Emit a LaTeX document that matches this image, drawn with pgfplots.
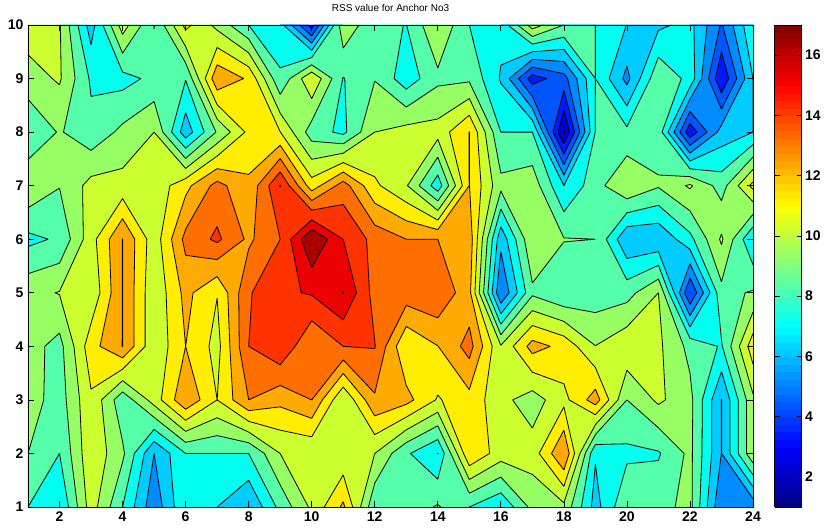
\documentclass[border=0pt]{standalone}
\usepackage{pgfplots}
\usepackage{pgfplotstable}
\usepackage{fontspec}
\setmainfont{Liberation Sans}
\pgfplotsset{compat=1.18}
\definecolor{band1}{HTML}{000099}
\definecolor{band2}{HTML}{0000CC}
\definecolor{band3}{HTML}{0018FF}
\definecolor{band4}{HTML}{0055FF}
\definecolor{band5}{HTML}{008CFF}
\definecolor{band6}{HTML}{00CCFF}
\definecolor{band7}{HTML}{00FFEE}
\definecolor{band8}{HTML}{55FFAA}
\definecolor{band9}{HTML}{96FF64}
\definecolor{band10}{HTML}{CCFF30}
\definecolor{band11}{HTML}{FFEE00}
\definecolor{band12}{HTML}{FFAA00}
\definecolor{band13}{HTML}{FF6F00}
\definecolor{band14}{HTML}{FF3300}
\definecolor{band15}{HTML}{EE0000}
\definecolor{band16}{HTML}{AA0000}
\definecolor{band17}{HTML}{800000}
\pgfplotstableread[header=false]{
10.5 10.1 6.5 10.5 7.98 11.3 9.7 8.0 7.4 3.5 9.8 8.2 7.98 9.95 8.0 7.3 10.5 9.0 8.0 6.98 6.8 7.3 4.9 7.9
9.6 10.12 7.85 7.65 8.25 8.05 12.8 11.85 8.15 10.9 7.95 8.95 7.4 8.77 8.8 6.9 3.5 4.6 8.0 5.7 8.8 7.7 3.1 7.0
8.05 9.1 8.3 9.25 10.0 6.4 9.1 11.25 11.02 8.5 7.75 10.0 10.4 10.4 12.02 8.0 8.0 1.9 8.03 8.25 8.6 3.3 6.42 7.0
9.9 9.04 10.35 10.36 10.3 11.7 13.35 12.2 15.03 11.45 13.46 11.2 10.1 7.4 12.02 9.3 9.6 7.0 8.6 9.95 9.1 10.15 8.55 11.3
7.73 8.15 10.6 13.02 10.4 13.3 14.2 12.8 14.0 17.02 15.0 13.65 13.0 13.0 12.6 6.3 9.9 9.05 9.0 6.1 6.1 7.7 10.15 7.0
9.7 10.05 10.2 13.02 10.2 12.3 11.04 13.9 14.8 15.1 16.03 13.6 13.6 13.9 12.3 5.0 8.8 8.05 8.4 8.6 10.0 3.98 8.7 9.1
9.4 8.65 11.6 13.02 10.2 12.0 10.65 14.0 14.9 13.0 14.0 14.05 11.05 11.98 13.4 10.1 12.4 11.7 10.02 10.8 10.2 8.7 7.9 11.6
9.5 8.5 10.85 8.3 10.45 12.85 11.0 13.0 12.3 13.0 10.05 12.85 12.35 10.9 11.67 10.3 9.5 10.7 12.5 9.0 10.2 9.3 5.98 9.8
9.0 8.0 10.8 9.2 6.0 8.0 8.0 8.0 10.0 10.1 10.2 10.0 8.15 6.98 11.9 10.5 10.45 13.0 7.1 7.78 7.9 9.25 5.98 9.8
8.0 7.0 10.5 8.0 5.3 7.95 7.0 6.0 8.3 10.2 12.2 8.2 8.4 9.1 8.0 7.1 9.3 9.75 6.6 8.9 8.66 9.3 5.1 5.3
}\grid
\makeatletter
\newif\ifhia \newif\ifhib \newif\ifsep
\newdimen\Lv \newdimen\tv \newdimen\vmin \newdimen\vmax
\def\V#1#2{\csname V@\number#1@\number#2\endcsname}
\def\hb#1{\ifdim#1<\Lv 0\else 1\fi}
\def\patAC{1010}\def\patBD{0101}
\def\crossing#1#2#3#4#5#6{%
  \tv=\dimexpr 1pt*\number\dimexpr\Lv-#3\relax/\number\dimexpr#6-#3\relax\relax
  \edef\px{\strip@pt\dimexpr #1pt+\tv*\numexpr#4-#1\relax\relax}%
  \edef\py{\strip@pt\dimexpr #2pt+\tv*\numexpr#5-#2\relax\relax}%
  \edef\cp{\cp(\px,\py)}%
  \ifsep
    \ifhia
      \edef\cl{\cl\firstE(\px,\py)(nan,nan)}%
      \edef\cp{\cp(nan,nan)}%
    \else
      \edef\firstE{(\px,\py)}%
    \fi
  \else
    \ifhia
      \edef\pend{(\px,\py)}%
    \else
      \ifx\pend\empty
        \edef\firstE{(\px,\py)}%
      \else
        \edef\cl{\cl\pend(\px,\py)(nan,nan)}%
        \let\pend\empty
      \fi
    \fi
  \fi}
\def\edge#1#2#3#4#5#6{%
  \ifdim#3<\Lv \hiafalse\else\hiatrue\fi
  \ifdim#6<\Lv \hibfalse\else\hibtrue\fi
  \ifhia \edef\cp{\cp(#1,#2)}\fi
  \ifhia
    \ifhib\else\crossing{#1}{#2}{#3}{#4}{#5}{#6}\fi
  \else
    \ifhib\crossing{#1}{#2}{#3}{#4}{#5}{#6}\fi
  \fi}
\def\cellwork#1#2#3{%
  \Lv=#1pt\relax
  \edef\xa{#2}\edef\ya{#3}%
  \edef\xb{\number\numexpr#2+1\relax}\edef\yb{\number\numexpr#3+1\relax}%
  \edef\va{\V{\xa}{\ya}}\edef\vb{\V{\xb}{\ya}}\edef\vc{\V{\xb}{\yb}}\edef\vd{\V{\xa}{\yb}}%
  \vmin=\va\relax \vmax=\va\relax
  \ifdim\vb<\vmin \vmin=\vb\relax\fi
  \ifdim\vc<\vmin \vmin=\vc\relax\fi
  \ifdim\vd<\vmin \vmin=\vd\relax\fi
  \ifdim\vb>\vmax \vmax=\vb\relax\fi
  \ifdim\vc>\vmax \vmax=\vc\relax\fi
  \ifdim\vd>\vmax \vmax=\vd\relax\fi
  \ifdim\vmax<\Lv\else
    \ifdim\vmin<\dimexpr\Lv+1pt\relax
      \let\cp\empty \let\cl\empty \let\pend\empty \let\firstE\empty
      \edef\pat{\hb\va\hb\vb\hb\vc\hb\vd}%
      \sepfalse
      \ifx\pat\patAC
        \ifdim\dimexpr(\va+\vb+\vc+\vd)/4\relax<\Lv \septrue\fi
      \fi
      \ifx\pat\patBD
        \ifdim\dimexpr(\va+\vb+\vc+\vd)/4\relax<\Lv \septrue\fi
      \fi
      \ifsep
        \ifx\pat\patAC
          \edge{\xb}{\ya}{\vb}{\xb}{\yb}{\vc}%
          \edge{\xb}{\yb}{\vc}{\xa}{\yb}{\vd}%
          \edge{\xa}{\yb}{\vd}{\xa}{\ya}{\va}%
          \edge{\xa}{\ya}{\va}{\xb}{\ya}{\vb}%
        \else
          \edge{\xa}{\ya}{\va}{\xb}{\ya}{\vb}%
          \edge{\xb}{\ya}{\vb}{\xb}{\yb}{\vc}%
          \edge{\xb}{\yb}{\vc}{\xa}{\yb}{\vd}%
          \edge{\xa}{\yb}{\vd}{\xa}{\ya}{\va}%
        \fi
      \else
        \edge{\xa}{\ya}{\va}{\xb}{\ya}{\vb}%
        \edge{\xb}{\ya}{\vb}{\xb}{\yb}{\vc}%
        \edge{\xb}{\yb}{\vc}{\xa}{\yb}{\vd}%
        \edge{\xa}{\yb}{\vd}{\xa}{\ya}{\va}%
        \ifx\pend\empty\else\ifx\firstE\empty\else
          \edef\cl{\cl\pend\firstE(nan,nan)}\fi\fi
      \fi
      \expandafter\xdef\csname poly#1\endcsname{\csname poly#1\endcsname\cp(nan,nan)}%
      \expandafter\xdef\csname line#1\endcsname{\csname line#1\endcsname\cl}%
    \fi
  \fi}
\makeatother
\newcommand\bandplot[1]{%
  \edef\tmp{\noexpand\addplot[fill=band#1,draw=band#1,line width=0.25pt,line join=round,forget plot,unbounded coords=jump] coordinates {\csname poly#1\endcsname};}\tmp}
\newcommand\lineplot[1]{%
  \edef\tmp{\noexpand\addplot[black,line width=0.8pt,forget plot,unbounded coords=jump] coordinates {\csname line#1\endcsname};}\tmp}
\begin{document}
\begin{tikzpicture}[x=1pt,y=1pt]
\foreach \r in {0,...,9}{\foreach \c in {0,...,23}{%
  \pgfplotstablegetelem{\r}{[index]\c}\of\grid
  \expandafter\xdef\csname V@\number\numexpr\c+1\relax @\number\numexpr10-\r\relax\endcsname{\pgfplotsretval pt}%
}}
\foreach \L in {2,...,17}{%
  \expandafter\gdef\csname poly\L\endcsname{}%
  \expandafter\gdef\csname line\L\endcsname{}%
  \foreach \x in {1,...,23}{\foreach \y in {1,...,9}{\cellwork{\L}{\x}{\y}}}%
}
\useasboundingbox (-28,-22) rectangle (801,507);
\begin{axis}[
  at={(0,0)},anchor=south west,
  width=725pt,height=482pt,scale only axis,
  xmin=1,xmax=24,ymin=1,ymax=10,
  xtick={2,4,...,24},ytick={1,...,10},
  tick align=inside,major tick length=6pt,
  axis on top,
  axis line style={line width=0.8pt},
  tick style={black,line width=0.7pt},
  /pgf/number format/assume math mode=true,
  tick label style={font=\fontsize{14}{16}\selectfont\bfseries},
  xticklabel style={yshift=-1pt},
  yticklabel style={xshift=-1pt},
  axis background/.style={fill=band1},
  title={RSS value for Anchor No3},
  title style={font=\fontsize{10}{12}\selectfont,at={(0.5,1)},anchor=south,yshift=4pt},
]
\bandplot{2}\bandplot{3}\bandplot{4}\bandplot{5}\bandplot{6}\bandplot{7}\bandplot{8}\bandplot{9}
\bandplot{10}\bandplot{11}\bandplot{12}\bandplot{13}\bandplot{14}\bandplot{15}\bandplot{16}\bandplot{17}
\lineplot{2}\lineplot{3}\lineplot{4}\lineplot{5}\lineplot{6}\lineplot{7}\lineplot{8}\lineplot{9}
\lineplot{10}\lineplot{11}\lineplot{12}\lineplot{13}\lineplot{14}\lineplot{15}\lineplot{16}\lineplot{17}
\end{axis}
\begin{axis}[
  at={(0,0)},anchor=south west,
  width=725pt,height=482pt,scale only axis,
  hide axis,xmin=0,xmax=1,ymin=0,ymax=1,
  colormap/jet,point meta min=1,point meta max=17,
  colorbar sampled,
  colorbar style={
    samples=65,
    at={(parent axis.south east)},anchor=south west,xshift=13pt,
    width=27pt,height=482pt,
    ytick={2,4,...,16},
    tick align=inside,major tick length=5pt,
    tick style={black,line width=0.7pt},
    axis line style={line width=0.8pt},
    /pgf/number format/assume math mode=true,
    tick label style={font=\fontsize{14}{16}\selectfont\bfseries},
    yticklabel pos=right,
  },
]
\addplot[draw=none,forget plot] coordinates {(0,0)(1,1)};
\end{axis}
\end{tikzpicture}
\end{document}
